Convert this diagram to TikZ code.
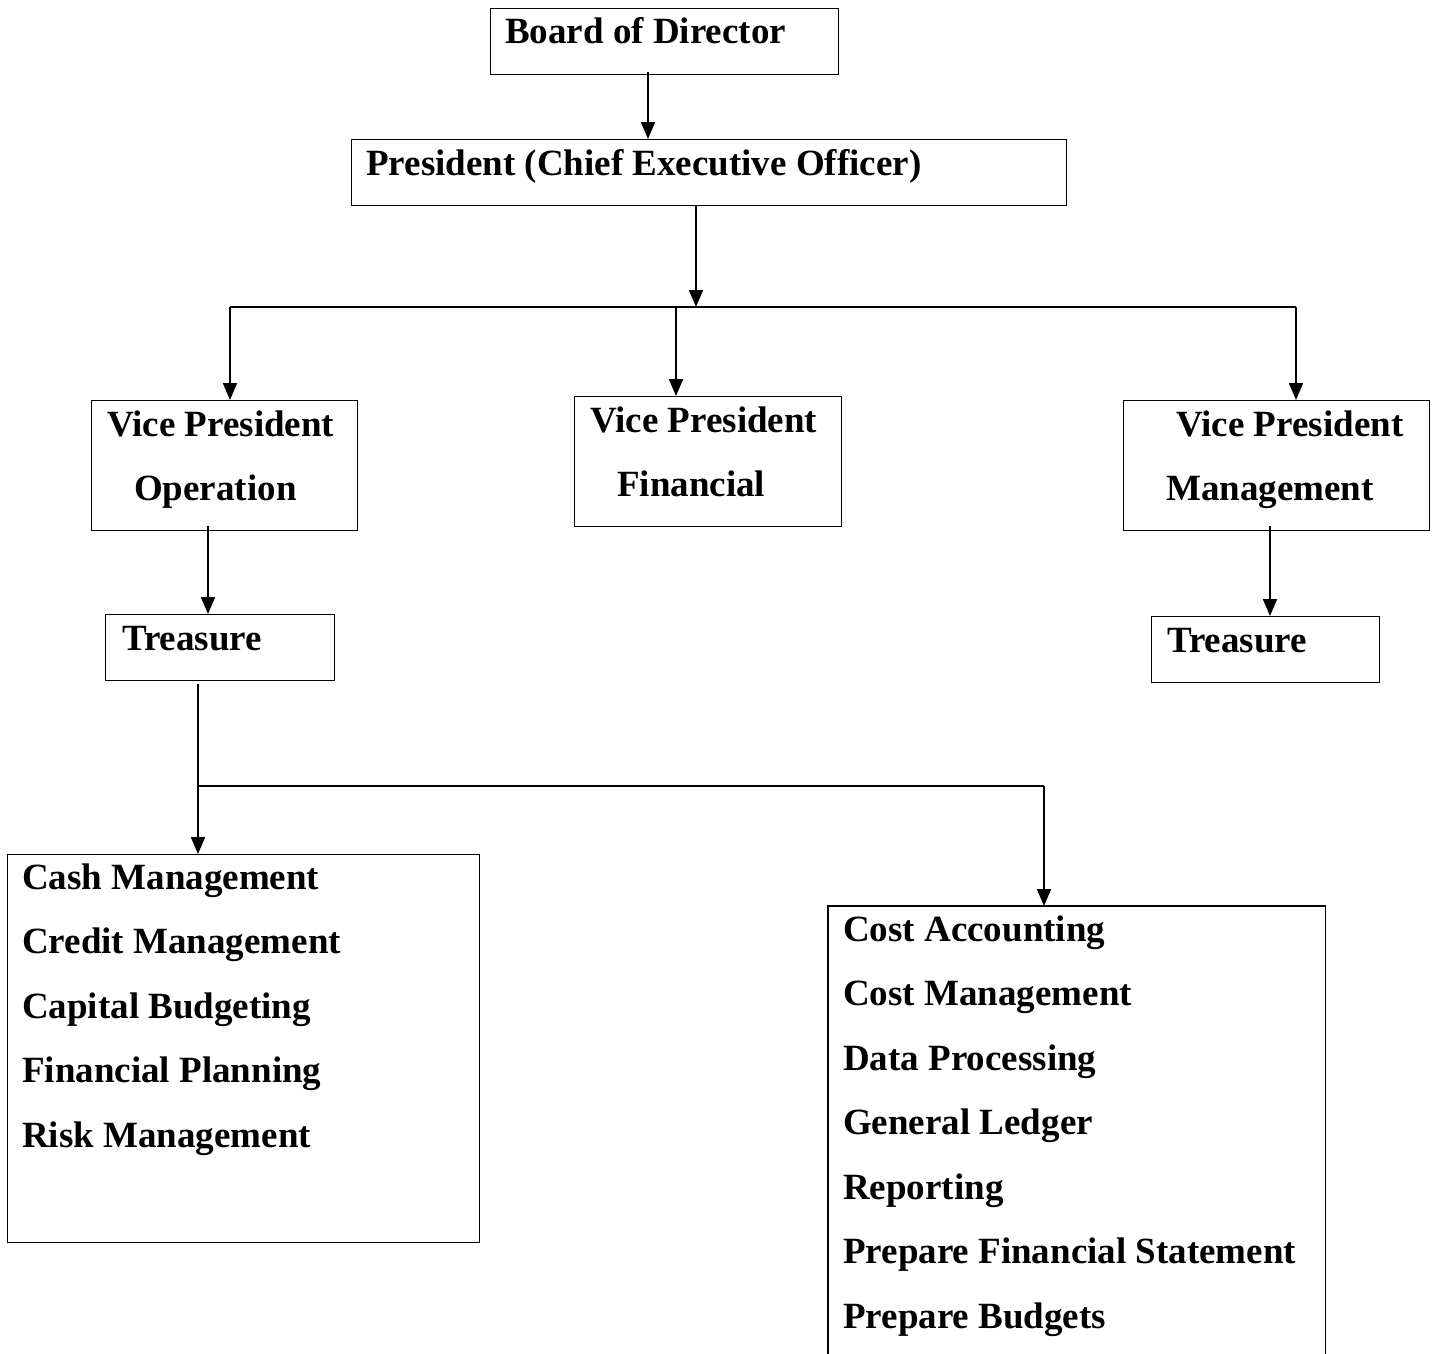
\documentclass[tikz,border=0pt]{standalone}
\usepackage{fontspec}
\setmainfont{Liberation Serif}
\usetikzlibrary{arrows.meta}
\begin{document}
\begin{tikzpicture}[x=1pt,y=-1pt,
  box/.style={draw, line width=1.3pt, rectangle, inner sep=0pt, anchor=north west},
  lbl/.style={anchor=base west, inner sep=0pt, font=\fontsize{37}{44}\selectfont\bfseries},
  con/.style={line width=2pt},
  arr/.style={line width=2pt, -{Triangle[length=17pt,width=14pt]}}]
\path[use as bounding box] (0,0) rectangle (1437,1354);
% boxes
\node[box, minimum width=348pt, minimum height=66pt] (board) at (490,8) {};
\node[box, minimum width=715pt, minimum height=66pt] (pres) at (351,139) {};
\node[box, minimum width=266pt, minimum height=130pt] (vpo) at (91,400) {};
\node[box, minimum width=267pt, minimum height=130pt] (vpf) at (574,396) {};
\node[box, minimum width=306pt, minimum height=130pt] (vpm) at (1123,400) {};
\node[box, minimum width=229pt, minimum height=66pt] (trl) at (105,614) {};
\node[box, minimum width=228pt, minimum height=66pt] (trr) at (1151,616) {};
\node[box, minimum width=472pt, minimum height=388pt] (cash) at (7,854) {};
\node[box, draw=none, minimum width=496pt, minimum height=448pt] (cost) at (828,906) {};
\draw[line width=1.3pt] (cost.south west) -- (cost.north west) -- (cost.north east) -- (cost.south east);
% texts
\node[lbl] (boardt) at (505,44) {Board of Director};
\node[lbl] (prest) at (366,175) {President (Chief Executive Officer)};
\node[lbl] (vpo1) at (107,436) {Vice President};
\node[lbl] (vpo2) at (134,500) {Operation};
\node[lbl] (vpf1) at (590,432) {Vice President};
\node[lbl] (vpf2) at (617,496) {Financial};
\node[lbl] (vpm1) at (1176,436) {Vice President};
\node[lbl] (vpm2) at (1166,500) {Management};
\node[lbl] (trlt) at (122,650) {Treasure};
\node[lbl] (trrt) at (1167,652) {Treasure};
\foreach \t [count=\i] in {Cash Management,Credit Management,Capital Budgeting,Financial Planning,Risk Management}
  \node[lbl] (c\i) at (22,889+64.5*\i-64.5) {\t};
\foreach \t [count=\i] in {Cost Accounting,Cost Management,Data Processing,General Ledger,Reporting,Prepare Financial Statement,Prepare Budgets}
  \node[lbl] (k\i) at (843,941+64.5*\i-64.5) {\t};
% connectors
\coordinate (b1) at (648,72);
\draw[arr] (b1) -- (b1 |- pres.north);
\coordinate (p1) at (696,205);
\coordinate (busc) at (696,307);
\coordinate (busl) at (230,307);
\coordinate (busm) at (676,307);
\coordinate (busr) at (1296,307);
\draw[arr] (p1) -- (busc);
\draw[con] (busl) -- (busr);
\draw[arr] (busl) -- (busl |- vpo.north);
\draw[arr] (busm) -- (busm |- vpf.north);
\draw[arr] (busr) -- (busr |- vpm.north);
\coordinate (o1) at (208,526);
\draw[arr] (o1) -- (o1 |- trl.north);
\coordinate (m1) at (1270,526);
\draw[arr] (m1) -- (m1 |- trr.north);
\coordinate (t1) at (198,684);
\coordinate (t2) at (198,786);
\coordinate (t3) at (1044,786);
\draw[arr] (t1) -- (t1 |- cash.north);
\draw[con] (t2) -- (t3);
\draw[arr] (t3) -- (t3 |- cost.north);
\end{tikzpicture}
\end{document}
